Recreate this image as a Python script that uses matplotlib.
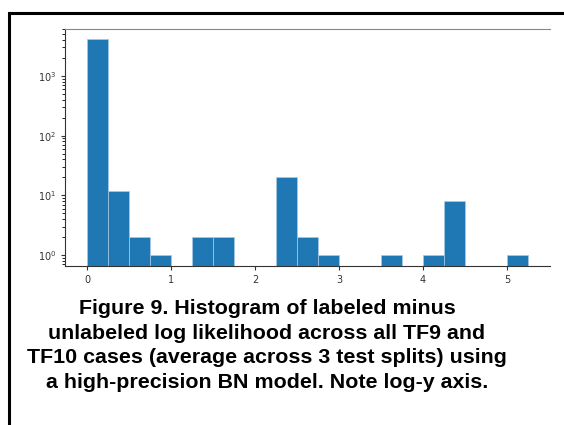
import matplotlib
matplotlib.use("Agg")
import matplotlib.pyplot as plt
from matplotlib.patches import Rectangle

# Bords des classes (largeur 0.25) et effectifs
bin_edges = [0.0, 0.25, 0.5, 0.75, 1.0, 1.25, 1.5, 1.75, 2.0, 2.25, 2.5,
             2.75, 3.0, 3.25, 3.5, 3.75, 4.0, 4.25, 4.5, 4.75, 5.0, 5.25]
counts = [4100, 12, 2, 1, 0, 2, 2, 0, 0, 20, 2,
          1, 0, 0, 1, 0, 1, 8, 0, 0, 1]
x_ticks = [0, 1, 2, 3, 4, 5]

caption = ("Figure 9. Histogram of labeled minus\n"
           "unlabeled log likelihood across all TF9 and\n"
           "TF10 cases (average across 3 test splits) using\n"
           "a high-precision BN model. Note log-y axis.")

fig = plt.figure(figsize=(5.64, 4.25), dpi=100)

# Cadre noir autour de la figure (coupé à droite et en bas)
fig.patches.append(Rectangle((8.5 / 564, -0.1), 1.2, 1 - 12.5 / 425 + 0.1,
                             transform=fig.transFigure, fill=False,
                             edgecolor="black", linewidth=2.2))

ax = fig.add_axes([65 / 564, 1 - 266 / 425, (550 - 65) / 564, (266 - 29) / 425])
ax.hist(bin_edges[:-1], bins=bin_edges, weights=counts, color="#1f77b4",
        edgecolor="#a9cbe8", linewidth=0.5, log=True)
ax.set_yscale("log")
ax.set_xlim(-0.2625, 5.5125)
ax.set_ylim(0.66, 6100)
ax.set_xticks(x_ticks)
ax.tick_params(labelsize=7, colors="#333333", length=3)
ax.tick_params(which="minor", length=2)

ax.spines["right"].set_visible(False)
ax.spines["top"].set_color("#888888")
ax.spines["left"].set_color("#333333")
ax.spines["bottom"].set_color("#333333")

fig.text(267 / 564, 1 - 299 / 425, caption, ha="center", va="top",
         fontsize=15.4, fontweight="bold", family="Liberation Sans",
         linespacing=1.37, color="black")

fig.savefig("out.png", dpi=100)
